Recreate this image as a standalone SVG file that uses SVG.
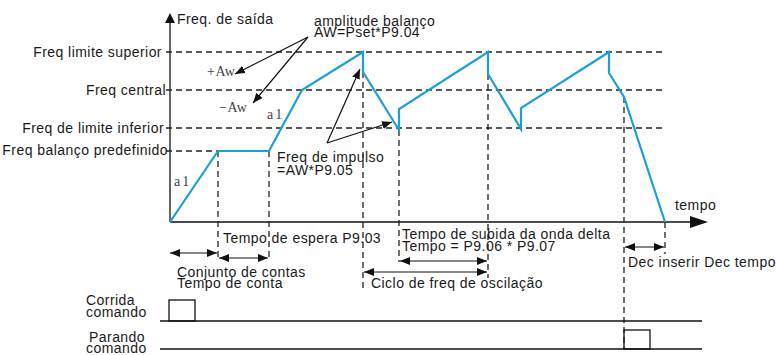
<svg xmlns="http://www.w3.org/2000/svg" width="776" height="355" viewBox="0 0 776 355">
<style>
text{font-family:"Liberation Sans",Arial,sans-serif;font-size:14px;letter-spacing:0.45px;fill:#1a1a1a}
.s{font-family:"Liberation Serif","Times New Roman",serif;font-size:14px;letter-spacing:0.5px;fill:#444}
.sa{letter-spacing:2px}
.dash{stroke:#222;stroke-width:1.3;stroke-dasharray:6 4;fill:none}
.ax{stroke:#111;stroke-width:1.3;fill:none}
.ar{stroke:#111;stroke-width:1.2;fill:none;marker-end:url(#ah)}
.dbl{stroke:#111;stroke-width:1.2;fill:none;marker-start:url(#ah);marker-end:url(#ah)}
.wave{stroke:#1a9fd6;stroke-width:2.2;fill:none;stroke-linejoin:miter}
</style>
<defs>
<marker id="ah" viewBox="0 0 10 8" refX="10" refY="4" markerWidth="10" markerHeight="8" markerUnits="userSpaceOnUse" orient="auto-start-reverse">
<path d="M0,0 L10,4 L0,8 Z" fill="#111"/>
</marker>
</defs>
<g id="axes">
<line class="ax" x1="170" y1="222" x2="170" y2="22"/>
<path d="M165,23 L170,13 L175,23 Z" fill="#111"/>
<line class="ax" x1="170" y1="222" x2="692" y2="222"/>
<path d="M690,216 L708,222 L690,228 Z" fill="#111"/>
<text x="177" y="24">Freq. de saída</text>
<text x="675" y="210">tempo</text>
</g>
<g id="levels">
<line class="dash" x1="166" y1="52" x2="666" y2="52"/>
<line class="dash" x1="166" y1="90" x2="666" y2="90"/>
<line class="dash" x1="166" y1="128" x2="666" y2="128"/>
<line class="dash" x1="166" y1="151" x2="218" y2="151"/>
<text x="162" y="57" text-anchor="end">Freq limite superior</text>
<text x="166" y="95" text-anchor="end">Freq central</text>
<text x="164" y="133" text-anchor="end">Freq de limite inferior</text>
<text x="168" y="155" text-anchor="end">Freq balanço predefinido</text>
</g>
<g id="verticals">
<line class="dash" x1="218" y1="151" x2="218" y2="260"/>
<line class="dash" x1="269" y1="151" x2="269" y2="258"/>
<line class="dash" x1="363" y1="72" x2="363" y2="288"/>
<line class="dash" x1="399" y1="130" x2="399" y2="262"/>
<line class="dash" x1="488" y1="74" x2="488" y2="278"/>
<line class="dash" x1="624" y1="97" x2="624" y2="349"/>
<line class="dash" x1="665" y1="222" x2="665" y2="254"/>
</g>
<g id="waveform">
<polyline class="wave" points="170,222 218,151 269,151 302,90 363,52 363,72 399,130 399,109 488,52 488,74 521,129 521,108 609,52 609,73 624,97 665,222"/>
<text class="s sa" x="174" y="186">a1</text>
<text class="s sa" x="267" y="119">a1</text>
</g>
<g id="connectors">
<line class="ar" x1="308" y1="37" x2="235" y2="74"/>
<line class="ar" x1="308" y1="37" x2="253" y2="103"/>
<line class="ar" x1="327" y1="143" x2="360" y2="69"/>
<line class="ar" x1="327" y1="143" x2="392" y2="122"/>
<line class="dbl" x1="170" y1="253" x2="217" y2="253"/>
<line class="dbl" x1="219" y1="258" x2="268" y2="258"/>
<line class="dbl" x1="400" y1="261" x2="487" y2="261"/>
<line class="dbl" x1="364" y1="272" x2="487" y2="272"/>
<line class="dbl" x1="625" y1="247" x2="664" y2="247"/>
</g>
<g id="amplitude">
<text x="314" y="26">amplitude balanço</text>
<text x="314" y="37">AW=Pset*P9.04</text>
<text class="s" x="207" y="76">+Aw</text>
<text class="s" x="219" y="112">−Aw</text>
</g>
<g id="impulse">
<text x="277" y="162">Freq de impulso</text>
<text x="277" y="175">=AW*P9.05</text>
</g>
<g id="times">
<text x="223" y="243">Tempo de espera P9.03</text>
<text x="177" y="277">Conjunto de contas</text>
<text x="177" y="288">Tempo de conta</text>
<text x="402" y="239">Tempo de subida da onda delta</text>
<text x="402" y="251">Tempo = P9.06 * P9.07</text>
<text x="371" y="288">Ciclo de freq de oscilação</text>
<text x="628" y="267">Dec inserir Dec tempo</text>
</g>
<g id="run-command">
<text x="86" y="305">Corrida</text>
<text x="86" y="317">comando</text>
<line class="ax" x1="160" y1="321" x2="702" y2="321"/>
<rect x="169" y="300" width="26" height="21" fill="none" stroke="#111" stroke-width="1.3"/>
</g>
<g id="stop-command">
<text x="89" y="342">Parando</text>
<text x="86" y="353">comando</text>
<line class="ax" x1="160" y1="349" x2="702" y2="349"/>
<rect x="624" y="330" width="26" height="19" fill="none" stroke="#111" stroke-width="1.3"/>
</g>
</svg>
